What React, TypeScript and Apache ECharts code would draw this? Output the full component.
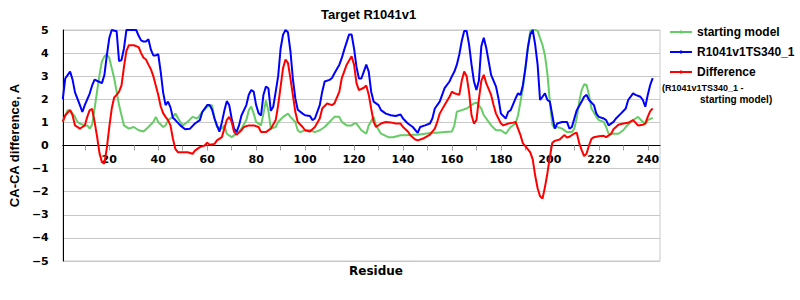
import React, { useEffect, useRef } from 'react';
import * as echarts from 'echarts';

const TITLE = 'Target R1041v1';
const SERIES_NAMES = ['starting model', 'R1041v1TS340_1', 'Difference'];
const SERIES_COLORS = ['#66cc66', '#0000ff', '#ff0000'];
const LEGEND_NOTE = ['(R1041v1TS340_1 -', 'starting model)'];
const X_NAME = 'Residue';
const Y_NAME = 'CA-CA difference, A';
const X_TICKS = [10, 20, 30, 40, 50, 60, 70, 80, 90, 100, 110, 120, 130, 140, 150, 160, 170, 180, 190, 200, 210, 220, 230, 240];
const X_LABELS = [20, 40, 60, 80, 100, 120, 140, 160, 180, 200, 220, 240];

// [residue, CA-CA difference]
const startingModel: [number, number][] = [
  [1, 1.02], [3, 1.53], [4, 1.53], [6, 1.24], [7, 1.02], [8, 0.95], [10, 0.87], [11, 0.87], [12, 0.73], [13, 0.9],
  [14, 1.6], [15, 2.33], [16, 3.06], [17, 3.64], [18, 3.86], [19, 3.94], [20, 3.79], [21, 3.35], [22, 2.92], [23, 2.33],
  [24, 1.75], [25, 1.31], [26, 0.87], [28, 0.73], [30, 0.8], [32, 0.66], [34, 0.61], [36, 0.8], [38, 1.02], [39, 1.24],
  [40, 1.02], [42, 0.8], [43, 0.87], [44, 1.1], [46, 1.24], [47, 1.38], [49, 1.02], [50, 0.87], [52, 1.02], [54, 1.24],
  [56, 1.17], [58, 1.46], [60, 1.68], [62, 1.75], [63, 1.17], [64, 0.8], [66, 0.73], [67, 0.87], [68, 0.51], [70, 0.36],
  [71, 0.44], [73, 0.58], [74, 0.73], [76, 1.1], [77, 1.53], [78, 1.68], [79, 1.38], [80, 1.02], [82, 0.87], [83, 1.38],
  [84, 1.95], [85, 1.5], [86, 0.73], [88, 0.8], [89, 1.02], [91, 1.24], [93, 1.38], [94, 1.24], [96, 1.02], [97, 0.66],
  [98, 0.58], [100, 0.66], [102, 0.66], [104, 0.58], [106, 0.66], [108, 0.8], [110, 1.02], [112, 1.24], [114, 1.24], [115, 1.02],
  [117, 0.87], [119, 0.87], [120, 0.95], [121, 0.95], [123, 0.66], [125, 0.51], [126, 0.87], [128, 1.24], [129, 0.87], [131, 0.51],
  [134, 0.36], [136, 0.36], [139, 0.44], [141, 0.44], [144, 0.47], [146, 0.47], [149, 0.51], [152, 0.55], [154, 0.55], [157, 0.58],
  [160, 0.61], [161, 0.87], [162, 1.46], [164, 1.53], [166, 1.6], [168, 1.75], [169, 1.82], [170, 1.87], [172, 1.6], [173, 1.31],
  [174, 1.17], [176, 0.87], [178, 0.66], [180, 0.66], [182, 0.51], [183, 0.66], [184, 0.8], [186, 0.95], [187, 1.31], [188, 1.9],
  [189, 2.48], [190, 3.3], [191, 4.2], [192, 4.96], [193, 5], [194, 5], [195, 4.96], [196, 4.65], [197, 4.35], [198, 3.9],
  [199, 3.1], [200, 1.9], [201, 0.9], [202, 0.75], [203, 0.8], [205, 0.73], [207, 0.58], [209, 0.58], [210, 0.73], [211, 1.2],
  [212, 1.9], [213, 2.4], [214, 2.65], [215, 2.62], [216, 2.19], [217, 1.6], [219, 1.24], [220, 1.1], [222, 1.02], [223, 0.8],
  [224, 0.51], [226, 0.51], [228, 0.51], [230, 0.66], [231, 0.8], [233, 1.02], [235, 1.17], [236, 1.24], [238, 1.02], [239, 0.95],
  [240, 1.1], [242, 1.2],
];

const model: [number, number][] = [
  [1, 2.0], [2, 2.9], [4, 3.2], [5, 2.85], [6, 2.3], [8, 1.75], [9, 1.45], [10, 1.75], [12, 2.25], [13, 2.6],
  [14, 2.85], [16, 2.75], [17, 2.7], [18, 3.05], [19, 3.9], [20, 4.65], [21, 5.0], [23, 4.95], [24, 3.65], [25, 3.7],
  [26, 4.2], [27, 5.0], [28, 5.0], [29, 5.0], [30, 5.0], [31, 5.0], [32, 4.75], [33, 4.55], [34, 4.5], [35, 4.5],
  [36, 4.6], [37, 4.15], [38, 3.9], [39, 3.9], [40, 3.95], [41, 3.2], [42, 2.3], [43, 1.75], [44, 1.9], [45, 1.65],
  [46, 1.2], [47, 1.1], [49, 0.87], [51, 0.7], [53, 0.73], [55, 0.95], [57, 1.1], [58, 1.45], [60, 1.75], [61, 1.75],
  [62, 1.55], [63, 1.17], [64, 0.87], [65, 0.6], [66, 1.0], [67, 1.5], [68, 1.92], [69, 1.75], [70, 1.17], [71, 0.73],
  [72, 0.58], [73, 0.87], [74, 1.3], [76, 1.75], [77, 2.2], [78, 2.4], [79, 2.33], [80, 1.75], [81, 1.4], [82, 1.3],
  [83, 2.2], [84, 2.55], [85, 2.48], [86, 1.5], [87, 1.68], [88, 2.33], [89, 3.0], [90, 4.2], [91, 4.8], [92, 5.0],
  [93, 4.9], [94, 4.1], [95, 2.9], [96, 2.05], [97, 1.55], [99, 1.38], [100, 1.31], [102, 1.28], [103, 1.1], [104, 1.17],
  [106, 1.75], [107, 2.33], [108, 2.77], [110, 2.84], [111, 2.92], [112, 3.13], [114, 3.5], [115, 3.79], [116, 4.15], [118, 4.81],
  [119, 4.81], [120, 4.2], [121, 3.4], [122, 2.9], [123, 2.9], [124, 3.2], [125, 3.5], [126, 3.2], [127, 2.33], [128, 1.9],
  [130, 1.75], [131, 1.53], [133, 1.38], [135, 1.31], [137, 1.28], [139, 1.34], [140, 1.17], [142, 0.95], [144, 0.8], [146, 0.55],
  [147, 0.8], [149, 0.87], [151, 0.95], [152, 1.17], [153, 1.6], [155, 1.9], [156, 2.19], [157, 2.48], [159, 2.77], [160, 3.0],
  [161, 3.2], [162, 3.5], [163, 3.94], [164, 4.52], [165, 4.96], [166, 4.96], [167, 4.37], [168, 3.5], [169, 2.77], [170, 2.4],
  [171, 2.8], [172, 4.3], [173, 4.66], [174, 4.23], [175, 3.64], [176, 3.06], [178, 2.55], [179, 2.04], [180, 1.38], [182, 1.17],
  [183, 1.46], [184, 1.53], [186, 2.04], [187, 2.26], [188, 2.19], [189, 2.62], [190, 3.35], [191, 4.23], [192, 4.81], [193, 5.0],
  [194, 4.37], [195, 3.5], [196, 1.97], [197, 2.11], [198, 2.26], [199, 1.97], [200, 1.9], [201, 1.31], [202, 0.73], [203, 0.95],
  [205, 1.02], [207, 1.02], [208, 0.73], [209, 0.8], [210, 1.17], [211, 1.53], [213, 1.9], [214, 2.11], [215, 2.19], [216, 1.97],
  [218, 1.75], [219, 1.38], [220, 1.24], [222, 1.17], [223, 1.1], [224, 0.87], [226, 1.02], [227, 1.17], [229, 1.38], [231, 1.6],
  [232, 1.97], [234, 2.26], [235, 2.19], [237, 2.11], [238, 1.97], [239, 1.68], [240, 2.19], [241, 2.62], [242, 2.92],
];

const difference: [number, number][] = [
  [1, 1.02], [2, 1.31], [4, 1.53], [5, 1.31], [6, 0.87], [8, 0.73], [9, 0.8], [10, 0.87], [11, 1.24], [12, 1.53],
  [13, 1.58], [14, 1.02], [15, 0.4], [16, -0.33], [17, -0.72], [18, -0.78], [19, -0.1], [20, 0.8], [21, 1.6], [22, 2.08],
  [23, 2.19], [24, 2.33], [25, 2.6], [26, 3.4], [27, 4.1], [28, 4.34], [30, 4.34], [32, 4.26], [33, 4.0], [34, 3.8],
  [35, 3.72], [36, 3.5], [37, 3.3], [38, 3.0], [39, 2.6], [40, 2.2], [41, 1.7], [42, 1.4], [43, 1.24], [44, 1.1],
  [45, 0.87], [46, 0.29], [47, -0.15], [48, -0.29], [50, -0.29], [52, -0.29], [54, -0.36], [55, -0.22], [57, -0.07], [59, 0.0],
  [60, 0.12], [61, 0.03], [63, 0.07], [64, 0.22], [66, 0.36], [67, 0.73], [68, 1.1], [69, 1.24], [70, 1.02], [71, 0.58],
  [72, 0.47], [74, 0.66], [75, 0.8], [77, 0.87], [79, 0.87], [81, 0.8], [82, 0.58], [84, 0.58], [86, 0.73], [88, 1.1],
  [89, 1.75], [90, 2.55], [91, 3.35], [92, 3.72], [93, 3.57], [94, 2.92], [95, 2.19], [96, 1.46], [97, 1.02], [99, 0.8],
  [100, 0.66], [102, 0.61], [104, 0.8], [106, 1.17], [107, 1.6], [109, 1.82], [111, 1.75], [112, 1.82], [114, 2.33], [115, 2.92],
  [117, 3.5], [119, 3.86], [120, 3.5], [121, 2.7], [122, 2.4], [124, 2.5], [125, 2.6], [126, 2.2], [127, 1.6], [128, 1.02],
  [129, 0.8], [131, 0.95], [133, 1.02], [135, 1.0], [137, 0.95], [139, 0.95], [140, 0.8], [142, 0.61], [143, 0.44], [145, 0.26],
  [146, 0.22], [148, 0.29], [150, 0.41], [151, 0.47], [153, 0.73], [154, 1.02], [155, 1.38], [157, 1.75], [159, 2.11], [160, 2.33],
  [161, 2.26], [163, 2.19], [164, 2.8], [165, 3.2], [166, 3.0], [167, 2.3], [168, 1.31], [169, 0.95], [170, 1.1], [171, 2.0],
  [172, 2.8], [173, 3.06], [174, 2.7], [176, 2.19], [177, 1.75], [178, 1.38], [180, 0.95], [181, 0.87], [183, 0.95], [185, 0.99],
  [186, 1.02], [187, 0.73], [188, 0.45], [189, 0.09], [190, -0.03], [192, -0.3], [193, -0.6], [194, -1.3], [195, -1.85], [196, -2.2],
  [197, -2.3], [198, -1.8], [199, -1.2], [200, -0.5], [201, 0.12], [202, 0.2], [204, 0.26], [206, 0.45], [207, 0.35], [208, 0.38],
  [210, 0.52], [211, 0.55], [212, 0.1], [213, -0.2], [214, -0.46], [215, -0.35], [216, 0.0], [217, 0.29], [218, 0.36], [220, 0.4],
  [222, 0.42], [223, 0.36], [225, 0.5], [226, 0.7], [228, 0.9], [230, 0.95], [232, 0.98], [234, 1.1], [235, 0.99], [236, 0.87],
  [238, 0.9], [239, 0.95], [240, 1.24], [241, 1.49], [242, 1.6],
];

const SERIES_DATA = [startingModel, model, difference];

// grid geometry
const GRID_TOP = 30;
const GRID_BOTTOM = 39;
const CHART_H = 300;

export default function App() {
  const ref = useRef<HTMLDivElement>(null);
  useEffect(() => {
    document.body.style.margin = '0';
    if (!ref.current) return;
    const chart = echarts.init(ref.current, null, { renderer: 'svg' });
    const boldArial = { fontFamily: 'Liberation Sans', fontWeight: 'bold' as const, color: '#000' };
    const boldDejavu = { fontFamily: 'DejaVu Sans', fontWeight: 'bold' as const, color: '#000' };
    const gridH = CHART_H - GRID_TOP - GRID_BOTTOM;
    const zeroOffset = -gridH / 2; // x axis drawn at y = 0 (middle of -5..5)
    chart.setOption({
      animation: false,
      backgroundColor: '#fff',
      title: {
        text: TITLE,
        left: 321,
        top: 8,
        padding: 0,
        textStyle: { ...boldArial, fontSize: 13 },
      },
      grid: {
        left: 50,
        right: 140,
        top: GRID_TOP,
        bottom: GRID_BOTTOM,
        show: true,
        borderColor: '#c8c8c8',
        borderWidth: 1,
      },
      legend: {
        orient: 'vertical',
        left: 670,
        top: 26,
        itemWidth: 22,
        itemHeight: 14,
        itemGap: 8,
        padding: 0,
        icon: 'path://M0,3 L22,3 L22,5 L0,5 Z M10.5,2 L11.5,2 L11.5,6 L10.5,6 Z',
        data: SERIES_NAMES,
        textStyle: { ...boldArial, fontSize: 12 },
      },
      xAxis: {
        type: 'value',
        min: 1,
        max: 245,
        position: 'bottom',
        offset: zeroOffset,
        axisLine: { onZero: false, lineStyle: { color: '#000', width: 1 } },
        axisTick: { show: true, customValues: X_TICKS, length: 5, lineStyle: { color: '#a0a0a0' } },
        axisLabel: { customValues: X_LABELS, fontSize: 11, ...boldDejavu },
        splitLine: { show: false },
      },
      yAxis: {
        type: 'value',
        min: -5,
        max: 5,
        interval: 1,
        axisLine: { show: true, onZero: false, lineStyle: { color: '#000', width: 1 } },
        axisTick: { show: false },
        axisLabel: {
          margin: 14,
          fontSize: 11,
          ...boldDejavu,
          formatter: (v: number) => String(v).replace('-', '\u2212'),
        },
        splitLine: { show: true, lineStyle: { color: '#c8c8c8', width: 1 } },
        name: Y_NAME,
        nameLocation: 'middle',
        nameGap: 30,
        nameTextStyle: { ...boldArial, fontSize: 13 },
      },
      graphic: [
        {
          type: 'text',
          x: 376,
          y: 271,
          style: { text: X_NAME, ...boldDejavu, fill: '#000', fontSize: 12, align: 'center', verticalAlign: 'middle' },
        },
        {
          type: 'text',
          x: 662,
          y: 88,
          style: { text: LEGEND_NOTE[0], ...boldArial, fill: '#000', fontSize: 9, align: 'left', verticalAlign: 'middle' },
        },
        {
          type: 'text',
          x: 700,
          y: 99,
          style: { text: LEGEND_NOTE[1], ...boldArial, fill: '#000', fontSize: 10, align: 'left', verticalAlign: 'middle' },
        },
      ],
      series: SERIES_NAMES.map((name, i) => ({
        name,
        type: 'line',
        symbol: 'none',
        data: SERIES_DATA[i],
        lineStyle: { width: 2, color: SERIES_COLORS[i] },
        itemStyle: { color: SERIES_COLORS[i] },
        z: 2 + i,
      })),
    });
    return () => chart.dispose();
  }, []);
  return <div ref={ref} style={{ width: 800, height: 300 }} />;
}
